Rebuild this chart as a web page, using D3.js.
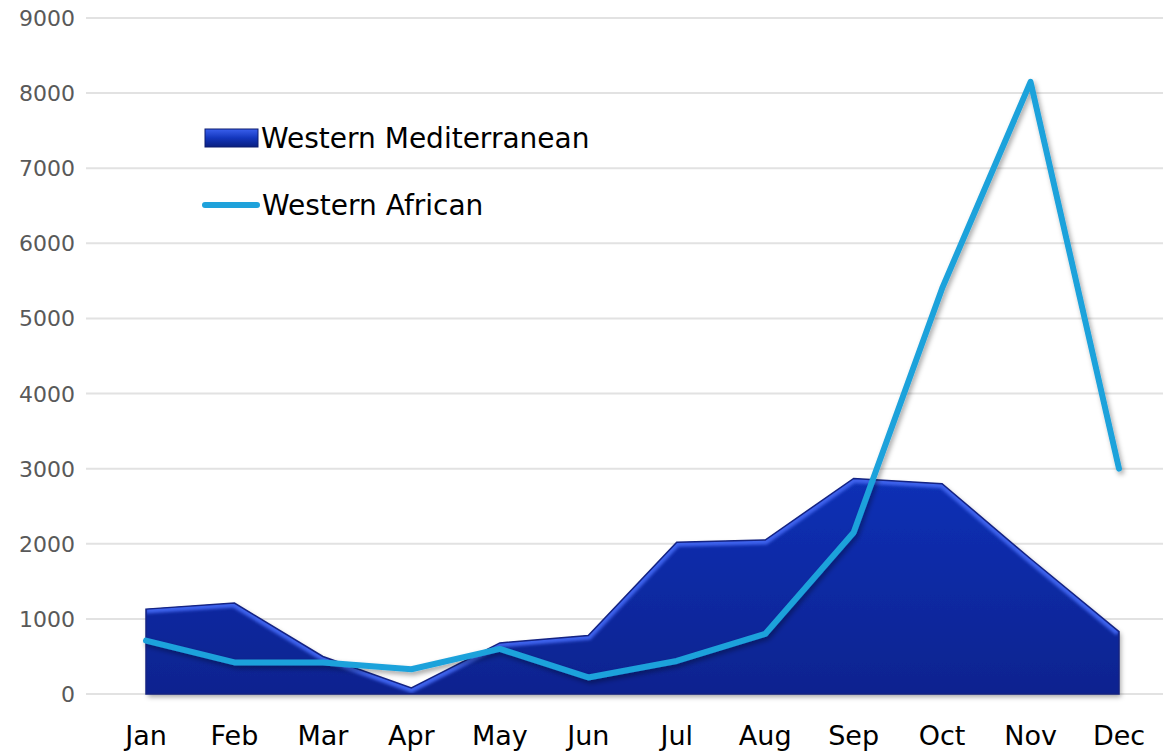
<!DOCTYPE html>
<html>

<head>
    <script src="https://cdnjs.cloudflare.com/ajax/libs/d3/7.8.5/d3.min.js"></script>
    <style>
        body {
            margin: 0;
            background: #fff;
        }

        .tick-y {
            fill: #595959;
            font-family: 'DejaVu Sans', sans-serif;
            font-size: 22px;
        }

        .tick-x {
            fill: #000;
            font-family: 'DejaVu Sans', sans-serif;
            font-size: 27px;
        }

        .legend {
            fill: #000;
            font-family: 'DejaVu Sans', sans-serif;
            font-size: 28px;
        }
    </style>
</head>

<body>
    <div id="root"></div>
    <script>
        const months = ['Jan', 'Feb', 'Mar', 'Apr', 'May', 'Jun', 'Jul', 'Aug', 'Sep', 'Oct', 'Nov', 'Dec']
        const westernMed = [1130, 1210, 500, 80, 680, 780, 2020, 2050, 2870, 2800, 1800, 830]
        const westernAfr = [710, 420, 420, 330, 600, 220, 440, 800, 2150, 5400, 8150, 3000]
        const yTicks = [0, 1000, 2000, 3000, 4000, 5000, 6000, 7000, 8000, 9000]

        const w = 1166
        const h = 752

        const svg = d3.select('#root')
            .append('svg')
            .attr('width', w)
            .attr('height', h)

        const defs = svg.append('defs')

        const grad = defs.append('linearGradient')
            .attr('id', 'areaGrad')
            .attr('x1', 0).attr('y1', 0).attr('x2', 0).attr('y2', 1)
        grad.append('stop').attr('offset', '0%').attr('stop-color', '#0e30b6')
        grad.append('stop').attr('offset', '100%').attr('stop-color', '#07238f')

        const legGrad = defs.append('linearGradient')
            .attr('id', 'legGrad')
            .attr('x1', 0).attr('y1', 0).attr('x2', 0).attr('y2', 1)
        legGrad.append('stop').attr('offset', '0%').attr('stop-color', '#3a60ee')
        legGrad.append('stop').attr('offset', '50%').attr('stop-color', '#1336bc')
        legGrad.append('stop').attr('offset', '100%').attr('stop-color', '#0a1f80')

        const shadow = defs.append('filter').attr('id', 'shadow')
            .attr('x', '-10%').attr('y', '-10%').attr('width', '120%').attr('height', '130%')
        shadow.append('feDropShadow')
            .attr('dx', 2).attr('dy', 3).attr('stdDeviation', 2.5)
            .attr('flood-color', '#000').attr('flood-opacity', 0.35)

        const bevel = defs.append('filter').attr('id', 'bevel')
        bevel.append('feGaussianBlur').attr('stdDeviation', 1.5)

        const x = d3.scalePoint()
            .domain(months)
            .range([146, 1119])

        const y = d3.scaleLinear()
            .domain([0, 9000])
            .range([694, 18])

        // gridlines
        svg.append('g')
            .selectAll('line')
            .data(yTicks)
            .enter()
            .append('line')
            .attr('x1', 86)
            .attr('x2', 1163)
            .attr('y1', d => y(d))
            .attr('y2', d => y(d))
            .attr('stroke', '#e2e2e2')
            .attr('stroke-width', 2)

        // y labels
        svg.append('g')
            .selectAll('text')
            .data(yTicks)
            .enter()
            .append('text')
            .attr('class', 'tick-y')
            .attr('x', 75)
            .attr('y', d => y(d) + 8)
            .attr('text-anchor', 'end')
            .text(d => d)

        // x labels
        svg.append('g')
            .selectAll('text')
            .data(months)
            .enter()
            .append('text')
            .attr('class', 'tick-x')
            .attr('x', d => x(d))
            .attr('y', 745)
            .attr('text-anchor', 'middle')
            .text(d => d)

        // area
        const medData = months.map((m, i) => ({ m: m, v: westernMed[i] }))
        const area = d3.area()
            .x(d => x(d.m))
            .y0(y(0))
            .y1(d => y(d.v))
        const topLine = d3.line()
            .x(d => x(d.m))
            .y(d => y(d.v))

        defs.append('clipPath').attr('id', 'areaClip')
            .append('path').attr('d', area(medData))

        svg.append('path')
            .attr('d', area(medData))
            .attr('fill', 'url(#areaGrad)')
            .attr('filter', 'url(#shadow)')

        svg.append('g')
            .attr('clip-path', 'url(#areaClip)')
            .append('path')
            .attr('d', topLine(medData))
            .attr('fill', 'none')
            .attr('stroke', '#3d62ec')
            .attr('stroke-width', 9)
            .attr('filter', 'url(#bevel)')

        svg.append('path')
            .attr('d', area(medData))
            .attr('fill', 'none')
            .attr('stroke', '#142383')
            .attr('stroke-width', 1.5)

        // line
        const afrData = months.map((m, i) => ({ m: m, v: westernAfr[i] }))
        svg.append('path')
            .attr('d', topLine(afrData))
            .attr('fill', 'none')
            .attr('stroke', '#1fa2db')
            .attr('stroke-width', 6)
            .attr('stroke-linecap', 'round')
            .attr('stroke-linejoin', 'round')
            .attr('filter', 'url(#shadow)')

        // legend
        const legend = svg.append('g')
        legend.append('rect')
            .attr('x', 205)
            .attr('y', 129)
            .attr('width', 53)
            .attr('height', 18)
            .attr('fill', 'url(#legGrad)')
            .attr('stroke', '#0d1c6e')
            .attr('stroke-width', 1)
        legend.append('text')
            .attr('class', 'legend')
            .attr('x', 261)
            .attr('y', 148)
            .text('Western Mediterranean')
        legend.append('line')
            .attr('x1', 205)
            .attr('x2', 257)
            .attr('y1', 205)
            .attr('y2', 205)
            .attr('stroke', '#1fa2db')
            .attr('stroke-width', 6)
            .attr('stroke-linecap', 'round')
        legend.append('text')
            .attr('class', 'legend')
            .attr('x', 262)
            .attr('y', 215)
            .text('Western African')
    </script>
</body>

</html>
